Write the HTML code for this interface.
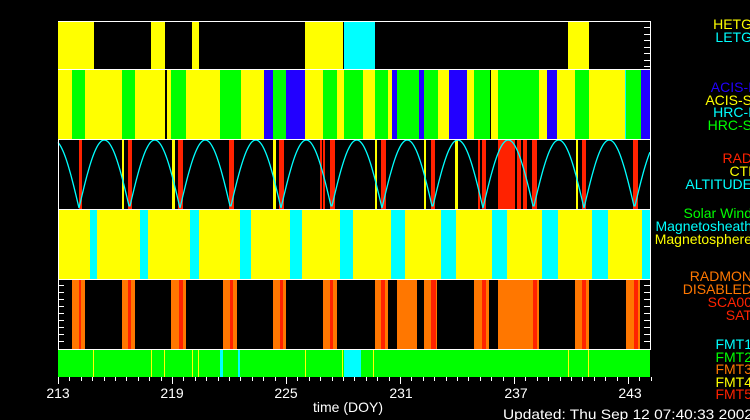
<!DOCTYPE html>
<html><head><meta charset="utf-8"><style>
html,body{margin:0;padding:0;background:#000;width:750px;height:420px;overflow:hidden}
svg{display:block}
text{font-family:"Liberation Sans","DejaVu Sans",sans-serif;font-size:14px}
</style></head><body>
<svg id="s" width="750" height="420" xmlns="http://www.w3.org/2000/svg">
<rect width="750" height="420" fill="#000"/>
<g id="g"></g>
<g text-anchor="end">
<text x="752" y="29" fill="#ffff00">HETG</text>
<text x="752" y="42" fill="#00ffff">LETG</text>
<text x="752" y="92" fill="#2200ff">ACIS-I</text>
<text x="752" y="105" fill="#ffff00">ACIS-S</text>
<text x="752" y="117" fill="#00ffff">HRC-I</text>
<text x="752" y="130" fill="#00ff00">HRC-S</text>
<text x="752" y="163" fill="#ff2200">RAD</text>
<text x="752" y="176" fill="#ffff00">CTI</text>
<text x="752" y="189" fill="#00ffff">ALTITUDE</text>
<text x="752" y="218" fill="#00ff00">Solar Wind</text>
<text x="752" y="231" fill="#00ffff">Magnetosheath</text>
<text x="752" y="244" fill="#ffff00">Magnetosphere</text>
<text x="752" y="281" fill="#ff7700">RADMON</text>
<text x="752" y="294" fill="#ff7700">DISABLED</text>
<text x="752" y="307" fill="#ff2200">SCA00</text>
<text x="752" y="320" fill="#ff2200">SAT</text>
<text x="752" y="349" fill="#00ffff">FMT1</text>
<text x="752" y="362" fill="#00ff00">FMT2</text>
<text x="752" y="374" fill="#ff7700">FMT3</text>
<text x="752" y="387" fill="#ffff00">FMT4</text>
<text x="752" y="399" fill="#ff2200">FMT5</text>
</g>
<g fill="#fff" text-anchor="middle">
<text x="58" y="398">213</text>
<text x="172" y="398">219</text>
<text x="286" y="398">225</text>
<text x="401" y="398">231</text>
<text x="516" y="398">237</text>
<text x="630" y="398">243</text>
<text x="348" y="412">time (DOY)</text>
</g>
<text x="503" y="419" fill="#fff" textLength="250" lengthAdjust="spacingAndGlyphs">Updated: Thu Sep 12 07:40:33 2002</text>
</svg>
<script>
var g=document.getElementById('g'),NS='http://www.w3.org/2000/svg';
function R(x1,x2,y1,y2,c){var r=document.createElementNS(NS,'rect');r.setAttribute('x',x1);r.setAttribute('y',y1);r.setAttribute('width',Math.max(1,x2-x1));r.setAttribute('height',y2-y1);r.setAttribute('fill',c);g.appendChild(r);}
var Y='#ffff00',C='#00ffff',G='#00ff00',B='#2200ff',K='#000',O='#ff7700',Rd='#ff2200';
[[58,94,Y],[151,165,Y],[192,199,Y],[305,343,Y],[344,375,C],[568,589,Y]].forEach(a=>R(a[0],a[1],21,69,a[2]));
[[58,72,Y],[72,85,G],[85,122,Y],[122,135,G],[135,165,Y],[165,167,K],[167,171,Y],[171,186,G],[186,220,Y],[220,241,G],[241,264,Y],[264,273,B],[273,286,G],[286,305,B],[305,323,Y],[323,337,G],[337,344,Y],[344,363,G],[363,375,Y],[375,388,G],[388,392,Y],[392,397,B],[397,419,G],[419,424,B],[424,438,G],[438,449,Y],[449,467,B],[467,474,Y],[474,490,G],[490,491,K],[491,498,Y],[498,539,G],[539,547,Y],[547,557,B],[557,575,Y],[575,589,G],[589,625,Y],[625,626,C],[626,641,G],[641,650,B]].forEach(a=>R(a[0],a[1],69,139,a[2]));
[[79,82],[128,132],[178,183],[229,234],[279,284],[320,322],[323,325],[330,335],[381,386],[431,435],[478,480],[482,486],[498,515],[517,521],[523,527],[532,537],[582,586],[633,638]].forEach(a=>R(a[0],a[1],139,209,Rd));
[[122,124],[172,175],[273,276],[375,377],[424,426],[455,458],[576,578]].forEach(a=>R(a[0],a[1],139,209,Y));
var pts=[];for(var x=58;x<=650;x+=1){var v=Math.abs(Math.sin(Math.PI*(x-79)/50.5));pts.push(x+','+(140+68*(1-v)).toFixed(1));}
var pl=document.createElementNS(NS,'polyline');pl.setAttribute('points',pts.join(' '));pl.setAttribute('fill','none');pl.setAttribute('stroke','#00ffff');pl.setAttribute('stroke-width','1.3');g.appendChild(pl);
R(58,650,209,279,Y);
[[90,97],[140,148],[190,199],[240,251],[290,302],[340,353],[391,405],[441,456],[492,507],[542,558],[592,608],[642,650]].forEach(a=>R(a[0],a[1],209,279,C));
[[72,85,79,81],[122,135,128,131],[171,186,179,183],[223,237,230,233],[273,286,280,283],[323,337,330,333],[375,388,381,385],[424,437,431,436],[474,489,482,486],[575,589,582,586],[626,640,634,638]].forEach(a=>{R(a[0],a[1],279,349,O);R(a[2],a[3],279,349,Rd);});
R(397,417,279,349,O);R(498,533,279,349,O);R(533,537,279,349,Rd);R(537,539,279,349,O);
R(58,650,349,377,G);
[[220,223],[238,240],[344,361]].forEach(a=>R(a[0],a[1],349,377,C));
[93,151,164,192,198,305,342,373,568,588].forEach(x=>R(x,x+1,349,377,Y));
[21,69,139,209,279,349].forEach(y=>R(58,651,y,y+1,'#fff'));
R(58,59,139,349,'#fff');R(650,651,21,349,'#fff');
for(var i=0;i<=52;i++){var x=58+i*114/10;if(x>651)break;R(Math.round(x),Math.round(x)+1,377,(i%10==0)?384:381,'#fff');}
for(var j=0;j<9;j++){var y=285+j*7;R(59,64,y,y+1,'#fff');R(644,650,y,y+1,'#fff');}
for(var j=0;j<7;j++){var y=27+j*6.5;R(644,650,Math.round(y),Math.round(y)+1,'#fff');}
</script>
</body></html>
